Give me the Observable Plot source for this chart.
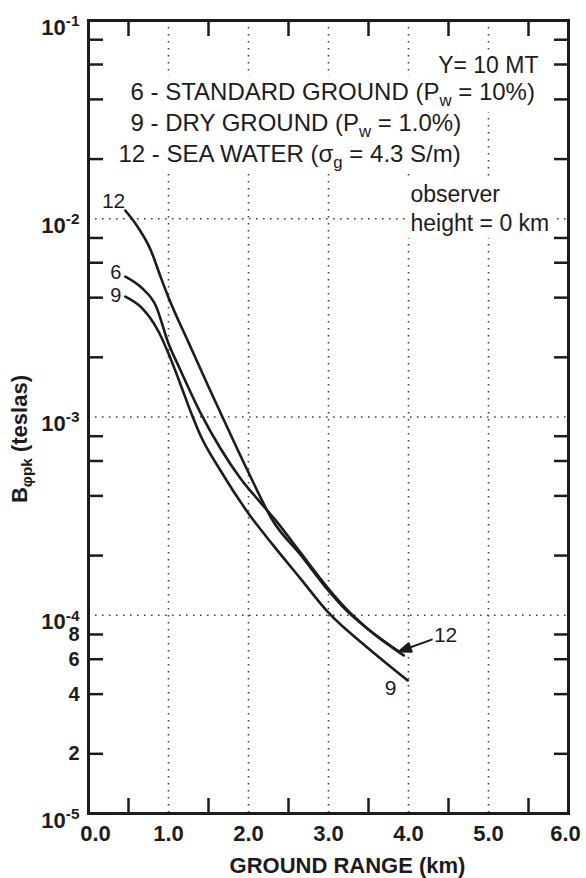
<!DOCTYPE html>
<html>
<head>
<meta charset="utf-8">
<script src="https://cdn.jsdelivr.net/npm/d3@7"></script>
<script src="https://cdn.jsdelivr.net/npm/@observablehq/plot@0.6"></script>
<style>
  html, body { margin: 0; padding: 0; background: #fff; }
  svg { display: block; }
</style>
</head>
<body>
<div id="chart"></div>
<script>
// ---------------- data ----------------
const seriesNames = ["12", "6", "9"];

const rangeKm12 = [0.46, 0.62, 0.78, 0.9, 1.0, 1.25, 1.5, 1.66, 2.0, 2.31, 2.65, 3.0, 3.21, 3.5, 3.88];
const field12   = [1.10e-2, 9.03e-3, 6.92e-3, 5.11e-3, 4.01e-3, 2.38e-3, 1.42e-3, 1.03e-3, 5.25e-4, 2.97e-4, 2.02e-4, 1.33e-4, 1.07e-4, 8.48e-5, 6.56e-5];

const rangeKm6 = [0.46, 0.66, 0.84, 1.0, 1.15, 1.4, 1.65, 1.9, 2.15, 2.34, 2.65, 3.0, 3.21, 3.5, 3.94];
const field6   = [5.11e-3, 4.50e-3, 3.65e-3, 2.35e-3, 1.72e-3, 1.05e-3, 6.94e-4, 4.90e-4, 3.70e-4, 3.01e-4, 2.07e-4, 1.36e-4, 1.09e-4, 8.48e-5, 6.27e-5];

const rangeKm9 = [0.46, 0.66, 0.875, 1.0, 1.15, 1.275, 1.4, 1.65, 2.0, 2.31, 2.65, 3.0, 3.5, 3.99];
const field9   = [4.05e-3, 3.57e-3, 2.70e-3, 2.09e-3, 1.46e-3, 1.07e-3, 8.07e-4, 5.37e-4, 3.26e-4, 2.25e-4, 1.53e-4, 1.03e-4, 6.80e-5, 4.69e-5];

const xLabelTicks = [1, 2, 3, 4, 5];
const xFirstTick = [0];
const xLastTick = [6];
const xMinorTicks = [0.5, 1.5, 2.5, 3.5, 4.5, 5.5];
const xGridTicks = [1, 2, 3, 4, 5];

const yDecadeTicks = [1e-5, 1e-4, 1e-3, 1e-2, 1e-1];
const yMinorLabelTicks = [2e-5, 4e-5, 6e-5, 8e-5];
const yMinorLabels = ["2", "4", "6", "8"];
const yMinorTicks = [-5, -4, -3, -2].flatMap(e => [2, 4, 6, 8].map(m => m * Math.pow(10, e)));
const yGridTicks = [1e-4, 1e-3, 1e-2];

const legendTop = "Y= 10 MT";
const legendLines = [
  "6 - STANDARD GROUND (P_{w} = 10%)",
  "9 - DRY GROUND (P_{w} = 1.0%)",
  "12 - SEA WATER (σ_{g} = 4.3 S/m)"
];
const observerLines = ["observer", "height = 0 km"];
const xTitle = "GROUND RANGE (km)";
const yTitle = "B_{φpk} (teslas)";

// ---------------- build tables ----------------
const seriesX = [rangeKm12, rangeKm6, rangeKm9];
const seriesY = [field12, field6, field9];
const rows = seriesNames.flatMap((s, i) => seriesX[i].map((x, j) => ({series: s, x, y: seriesY[i][j]})));
const starts = seriesNames.map((s, i) => ({series: s, x: seriesX[i][0], y: seriesY[i][0]}));
const ends = seriesNames.map((s, i) => ({series: s, x: seriesX[i].at(-1), y: seriesY[i].at(-1)}));
const minorLabelRows = yMinorLabelTicks.map((v, i) => ({v, label: yMinorLabels[i]}));

const ink = "#1c1c1c";
const gridStyle = {stroke: "#444", strokeOpacity: 1, strokeWidth: 1.6, strokeDasharray: "1.6,5.4"};
const arrowShape = {
  draw(context, l) {
    context.moveTo(0, 0);
    context.lineTo(0, -l + 8);
    context.moveTo(0, -l);
    context.lineTo(-4.5, -l + 12);
    context.lineTo(4.5, -l + 12);
    context.closePath();
  }
};
const normalText = {fontWeight: "normal"};

const chart = Plot.plot({
  width: 586,
  height: 878,
  marginLeft: 88,
  marginRight: 18,
  marginTop: 20,
  marginBottom: 65,
  x: {domain: [0, 6]},
  y: {type: "log", domain: [1e-5, 1e-1]},
  style: {
    background: "white",
    color: ink,
    fontFamily: "'Liberation Sans', Arial, Helvetica, sans-serif",
    fontSize: "22px",
    overflow: "visible"
  },
  marks: [
    Plot.gridX(xGridTicks, gridStyle),
    Plot.gridY(yGridTicks, gridStyle),

    // x axis labels
    Plot.axisX(xLabelTicks, {anchor: "bottom", tickSize: 0, tickPadding: 12, tickFormat: d3.format(".1f"), fontSize: 22, fontWeight: "bold", label: null}),
    Plot.axisX(xFirstTick, {anchor: "bottom", tickSize: 0, tickPadding: 12, tickFormat: d3.format(".1f"), fontSize: 22, fontWeight: "bold", label: null, dx: 7}),
    Plot.axisX(xLastTick, {anchor: "bottom", tickSize: 0, tickPadding: 12, tickFormat: d3.format(".1f"), fontSize: 22, fontWeight: "bold", label: null, dx: -3}),
    // inward minor ticks
    Plot.axisX(xMinorTicks, {anchor: "bottom", tickSize: -15, strokeWidth: 2.5, tickFormat: () => "", label: null}),
    Plot.axisX(xMinorTicks, {anchor: "top", tickSize: -15, strokeWidth: 2.5, tickFormat: () => "", label: null}),

    // y axis labels
    Plot.axisY(yDecadeTicks, {anchor: "left", tickSize: 0, tickPadding: 9, tickFormat: d => `10^{${Math.round(Math.log10(d))}}`, fontSize: 22, fontWeight: "bold", label: null, dy: 7}),
    Plot.text(minorLabelRows, {y: "v", text: "label", frameAnchor: "left", textAnchor: "end", lineAnchor: "middle", dx: -9, fontSize: 20, fontWeight: "bold"}),
    Plot.axisY(yMinorTicks, {anchor: "left", tickSize: -15, strokeWidth: 2.5, tickFormat: () => "", label: null}),
    Plot.axisY(yMinorTicks, {anchor: "right", tickSize: -15, strokeWidth: 2.5, tickFormat: () => "", label: null}),

    // curves
    Plot.line(rows, {x: "x", y: "y", z: "series", curve: "monotone-x", stroke: ink, strokeWidth: 2.6}),

    Plot.frame({stroke: ink, strokeWidth: 3}),

    // curve labels at start
    Plot.text(starts.filter(d => d.series === "12"), {x: "x", y: "y", text: "series", textAnchor: "end", lineAnchor: "middle", dx: 0, dy: -9, fontSize: 21, ...normalText}),
    Plot.text(starts.filter(d => d.series === "6"), {x: "x", y: "y", text: "series", textAnchor: "end", lineAnchor: "middle", dx: -4, dy: -4, fontSize: 20, ...normalText}),
    Plot.text(starts.filter(d => d.series === "9"), {x: "x", y: "y", text: "series", textAnchor: "end", lineAnchor: "middle", dx: -4, dy: -1, fontSize: 20, ...normalText}),
    // curve labels at end
    Plot.vector(ends.filter(d => d.series === "12"), {x: "x", y: "y", anchor: "end", length: 35, rotate: 250, shape: arrowShape, stroke: ink, fill: ink, strokeWidth: 2}),
    Plot.text(ends.filter(d => d.series === "12"), {x: "x", y: "y", text: "series", textAnchor: "start", lineAnchor: "middle", dx: 35, dy: -16, fontSize: 21, ...normalText}),
    Plot.text(ends.filter(d => d.series === "9"), {x: "x", y: "y", text: "series", textAnchor: "middle", lineAnchor: "middle", dx: -17, dy: 8, fontSize: 21, ...normalText}),

    // legend annotation
    Plot.text([legendTop], {text: d => d, frameAnchor: "top-right", textAnchor: "end", lineAnchor: "middle", dx: -30, dy: 45, fontSize: 23, ...normalText}),
    Plot.text([legendLines[0]], {text: d => d, frameAnchor: "top-left", textAnchor: "start", lineAnchor: "middle", dx: 42, dy: 72, fontSize: 24, ...normalText}),
    Plot.text([legendLines[1]], {text: d => d, frameAnchor: "top-left", textAnchor: "start", lineAnchor: "middle", dx: 42, dy: 103, fontSize: 24, ...normalText}),
    Plot.text([legendLines[2]], {text: d => d, frameAnchor: "top-left", textAnchor: "start", lineAnchor: "middle", dx: 30, dy: 134, fontSize: 24, ...normalText}),
    Plot.text([observerLines[0]], {text: d => d, frameAnchor: "top-left", textAnchor: "start", lineAnchor: "middle", dx: 322, dy: 174, fontSize: 23, ...normalText}),
    Plot.text([observerLines[1]], {text: d => d, frameAnchor: "top-left", textAnchor: "start", lineAnchor: "middle", dx: 322, dy: 203, fontSize: 23, ...normalText}),

    // axis titles
    Plot.text([xTitle], {text: d => d, frameAnchor: "bottom", textAnchor: "middle", lineAnchor: "middle", dx: 19, dy: 52, fontSize: 22, fontWeight: "bold"}),
    Plot.text([yTitle], {text: d => d, frameAnchor: "left", textAnchor: "middle", rotate: -90, lineAnchor: "middle", dx: -69, dy: 22, fontSize: 22, fontWeight: "bold"})
  ]
});

document.getElementById("chart").append(chart);

// ---------------- rich text (sub/superscripts) and white boxes ----------------
const NS = "http://www.w3.org/2000/svg";
const boxedStrings = new Set([legendTop, ...legendLines, ...observerLines]);
const allTexts = [...chart.querySelectorAll("text")];
const boxed = allTexts.filter(t => boxedStrings.has(t.textContent));

function richify(textEl) {
  const s = textEl.textContent;
  if (!/[_^]\{/.test(s)) return;
  const fs = parseFloat(getComputedStyle(textEl).fontSize) || 22;
  textEl.textContent = "";
  const re = /([_^])\{([^}]*)\}/g;
  let last = 0, m, shift = 0;
  const add = (str, kind) => {
    const t = document.createElementNS(NS, "tspan");
    t.textContent = str;
    const target = kind === "_" ? fs * 0.24 : kind === "^" ? -fs * 0.4 : 0;
    if (kind) t.setAttribute("font-size", (fs * 0.7).toFixed(1));
    t.setAttribute("dy", (target - shift).toFixed(2));
    shift = target;
    textEl.append(t);
  };
  while ((m = re.exec(s))) {
    if (m.index > last) add(s.slice(last, m.index), null);
    add(m[2], m[1]);
    last = re.lastIndex;
  }
  if (last < s.length) add(s.slice(last), null);
}
allTexts.forEach(richify);

if (boxed.length) {
  const sr = chart.getBoundingClientRect();
  const g = document.createElementNS(NS, "g");
  boxed.forEach(t => {
    const b = t.getBoundingClientRect();
    const r = document.createElementNS(NS, "rect");
    r.setAttribute("x", b.left - sr.left - 4);
    r.setAttribute("y", b.top - sr.top - 2);
    r.setAttribute("width", b.width + 8);
    r.setAttribute("height", b.height + 4);
    r.setAttribute("fill", "white");
    r.setAttribute("stroke", "none");
    g.append(r);
  });
  const firstG = boxed[0].parentNode;
  firstG.parentNode.insertBefore(g, firstG);
}
</script>
</body>
</html>
